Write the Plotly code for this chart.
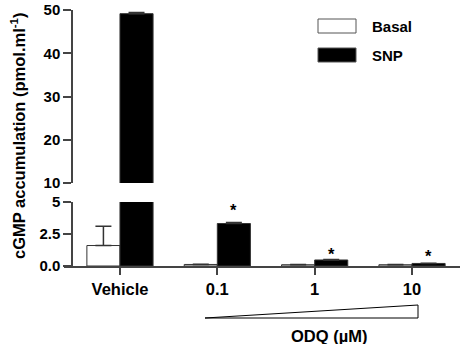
import plotly.graph_objects as go

W, H = 464, 344

categories = ["Vehicle", "0.1", "1", "10"]
basal = [1.6, 0.12, 0.1, 0.1]
basal_err = [1.5, 0.02, 0.02, 0.02]
snp = [49.15, 3.32, 0.47, 0.2]
snp_err = [0.3, 0.08, 0.03, 0.02]
sig = ["", "*", "*", "*"]
sig_y = [None, 4.6, 1.17, 1.0]

break_low, break_high = 5, 10

FAM = "Liberation Sans, Arial, sans-serif"
FONT = dict(family=FAM, size=15, color="black", weight="bold")
FONT_L = dict(family=FAM, size=16.5, color="black", weight="bold")
AX = "#444444"
BAR_W = 0.34


def px(x):
    return x / W


def py(y):
    return 1 - y / H


fig = go.Figure()


def bar_traces(yaxis, keep):
    b = [v if keep(v) else None for v in basal]
    s = [v if keep(v) else None for v in snp]
    be = [e if keep(v) else None for v, e in zip(basal, basal_err)]
    se = [e if keep(v) else None for v, e in zip(snp, snp_err)]
    fig.add_trace(go.Bar(
        x=categories, y=b, yaxis=yaxis, name="Basal", width=BAR_W, offset=-BAR_W,
        marker=dict(color="white", line=dict(color="#333333", width=1)),
        error_y=dict(type="data", array=be, arrayminus=[0] * len(be), symmetric=False,
                     color="#333333", thickness=1.5, width=8),
        showlegend=False))
    fig.add_trace(go.Bar(
        x=categories, y=s, yaxis=yaxis, name="SNP", width=BAR_W, offset=0,
        marker=dict(color="black", line=dict(color="#333333", width=1)),
        error_y=dict(type="data", array=se, arrayminus=[0] * len(se), symmetric=False,
                     color="#333333", thickness=1.5, width=8),
        showlegend=False))


# lower panel (0-5) and upper panel (10-50)
bar_traces("y", lambda v: True)
bar_traces("y2", lambda v: v > break_high)

ypos = px(72)
fig.update_layout(
    width=W, height=H,
    margin=dict(l=0, r=0, t=0, b=0),
    paper_bgcolor="white", plot_bgcolor="white",
    barmode="overlay",
    font=FONT,
    showlegend=False,
    xaxis=dict(domain=[px(64), px(460)], range=[-0.575, 3.493], anchor="y",
               showline=True, linecolor=AX, linewidth=1.5,
               ticks="outside", ticklen=7, tickcolor=AX, tickwidth=1.5,
               showgrid=False, zeroline=False, tickfont=FONT_L, automargin=False),
    yaxis=dict(domain=[py(266), py(202)], range=[0, break_low],
               anchor="free", position=ypos,
               tickvals=[0, 2.5, 5], ticktext=["0.0", "2.5", "5"],
               showline=True, linecolor=AX, linewidth=1.5,
               ticks="outside", ticklen=8, tickcolor=AX, tickwidth=1.5,
               showgrid=False, zeroline=False, tickfont=FONT, automargin=False),
    yaxis2=dict(domain=[py(183), py(10)], range=[break_high, 50],
                anchor="free", position=ypos,
                tickvals=[10, 20, 30, 40, 50],
                showline=True, linecolor=AX, linewidth=1.5,
                ticks="outside", ticklen=8, tickcolor=AX, tickwidth=1.5,
                showgrid=False, zeroline=False, tickfont=FONT, automargin=False),
)

# significance stars above the SNP bars
for i, (s, yv) in enumerate(zip(sig, sig_y)):
    if s:
        fig.add_annotation(x=i + BAR_W / 2, y=yv, xref="x", yref="y", text=s,
                           showarrow=False, yshift=-3, font=FONT_L,
                           xanchor="center", yanchor="middle")

# y-axis title
fig.add_annotation(x=px(18), y=py(136), xref="paper", yref="paper",
                   text="cGMP accumulation (pmol.ml<sup>-1</sup>)", textangle=-90,
                   showarrow=False, font=FONT_L, xanchor="center", yanchor="middle")

# legend
for label, fill, ytop in [("Basal", "white", 19), ("SNP", "black", 48)]:
    fig.add_shape(type="rect", xref="paper", yref="paper",
                  x0=px(318), x1=px(356), y0=py(ytop + 14), y1=py(ytop),
                  fillcolor=fill, line=dict(color="#555555", width=1))
    fig.add_annotation(x=px(370), y=py(ytop + 7), xref="paper", yref="paper",
                       text=label, showarrow=False, font=FONT,
                       xanchor="left", yanchor="middle")

# ODQ concentration wedge
fig.add_shape(type="path", xref="paper", yref="paper",
              path=f"M {px(205)} {py(318)} L {px(418)} {py(318)} L {px(418)} {py(305)} Z",
              fillcolor="white", line=dict(color="black", width=1))
fig.add_annotation(x=px(329), y=py(336), xref="paper", yref="paper",
                   text="ODQ (µM)", showarrow=False, font=FONT_L,
                   xanchor="center", yanchor="middle")

fig.write_html("out.html")
